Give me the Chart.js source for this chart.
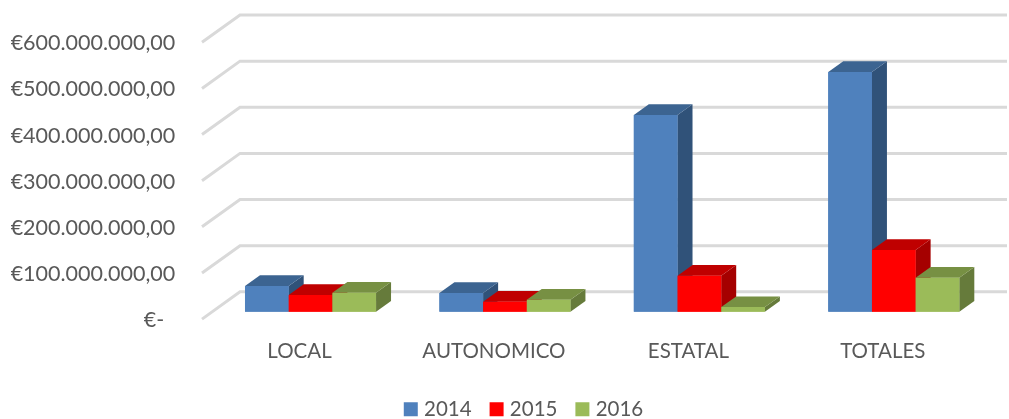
<!DOCTYPE html>
<html>
<head>
<meta charset="utf-8">
<style>html,body{margin:0;padding:0;background:#fff}canvas{display:block}</style>
<script src="https://cdn.jsdelivr.net/npm/chart.js@4"></script>
</head>
<body>
<canvas id="c" width="1009" height="419"></canvas>
<script>
const categories = ["LOCAL", "AUTONOMICO", "ESTATAL", "TOTALES"];
const seriesNames = ["2014", "2015", "2016"];
const values2014 = [55900000, 40700000, 426500000, 520000000];
const values2015 = [36300000, 21800000, 78300000, 134000000];
const values2016 = [41300000, 26100000, 10200000, 74000000];
const frontColors = ["#4F81BD", "#FF0000", "#9BBB59"];
const topColors = ["#3C6491", "#BF0000", "#779043"];
const sideColors = ["#305279", "#A50000", "#667B3B"];
const FONT = "Lato, Carlito, Calibri, sans-serif";

const fmt = v => v === 0 ? "€-\u00A0\u00A0" :
  "€" + String(v).replace(/\B(?=(\d{3})+$)/g, ".") + ",00";

const wall3d = {
  id: "wall3d",
  afterLayout(chart) {
    chart.legend.left += 26;
    chart.legend.right += 26;
  },
  beforeDatasetsDraw(chart) {
    const c = chart.ctx, y = chart.scales.y;
    c.save();
    c.strokeStyle = "#D9D9D9";
    c.lineWidth = 3;
    y.ticks.forEach(t => {
      const p = y.getPixelForValue(t.value);
      c.beginPath();
      c.moveTo(202, p + 7.3);
      c.lineTo(240, p - 20);
      c.lineTo(1007, p - 20);
      c.stroke();
    });
    c.restore();
  },
  afterDatasetsDraw(chart) {
    const c = chart.ctx, dx = 15, dy = 10.7;
    c.save();
    seriesNames.forEach((name, i) => {
      chart.getDatasetMeta(i).data.forEach(b => {
        const r = b.x + b.width / 2, l = b.x - b.width / 2;
        c.fillStyle = sideColors[i];
        c.beginPath();
        c.moveTo(r, b.y); c.lineTo(r + dx, b.y - dy); c.lineTo(r + dx, b.base - dy); c.lineTo(r, b.base);
        c.closePath(); c.fill();
        c.fillStyle = topColors[i];
        c.beginPath();
        c.moveTo(l, b.y); c.lineTo(l + dx, b.y - dy); c.lineTo(r + dx, b.y - dy); c.lineTo(r, b.y);
        c.closePath(); c.fill();
        b.draw(c);
      });
    });
    c.restore();
  }
};

new Chart(document.getElementById("c"), {
  type: "bar",
  data: {
    labels: categories,
    datasets: [values2014, values2015, values2016].map((vals, i) => ({
      label: seriesNames[i],
      data: vals,
      backgroundColor: frontColors[i],
      borderWidth: 0,
      pointStyle: "rect",
      categoryPercentage: 0.674,
      barPercentage: 1
    }))
  },
  options: {
    responsive: false,
    animation: false,
    devicePixelRatio: 1,
    layout: { autoPadding: false, padding: { left: 8, right: 18, top: 35, bottom: -10.5 } },
    scales: {
      x: {
        grid: { display: false },
        border: { display: false },
        ticks: { color: "#595959", font: { family: FONT, size: 20.5 }, padding: 19, labelOffset: -11, maxRotation: 0, autoSkip: false },
        afterFit: s => { s.height = 65.2; }
      },
      y: {
        min: 0, max: 600000000,
        grid: { display: false, drawTicks: true, tickLength: 38 },
        border: { display: false },
        ticks: { stepSize: 100000000, color: "#595959", font: { family: FONT, size: 21.5 }, padding: 0, labelOffset: 8.3, callback: fmt },
        afterFit: s => { s.width = 205.3; }
      }
    },
    plugins: {
      tooltip: { enabled: false },
      legend: {
        position: "bottom",
        labels: {
          color: "#595959", font: { family: FONT, size: 20.5 },
          usePointStyle: true, boxWidth: 6, boxHeight: 14, padding: 22
        }
      }
    }
  },
  plugins: [wall3d]
});
</script>
</body>
</html>
